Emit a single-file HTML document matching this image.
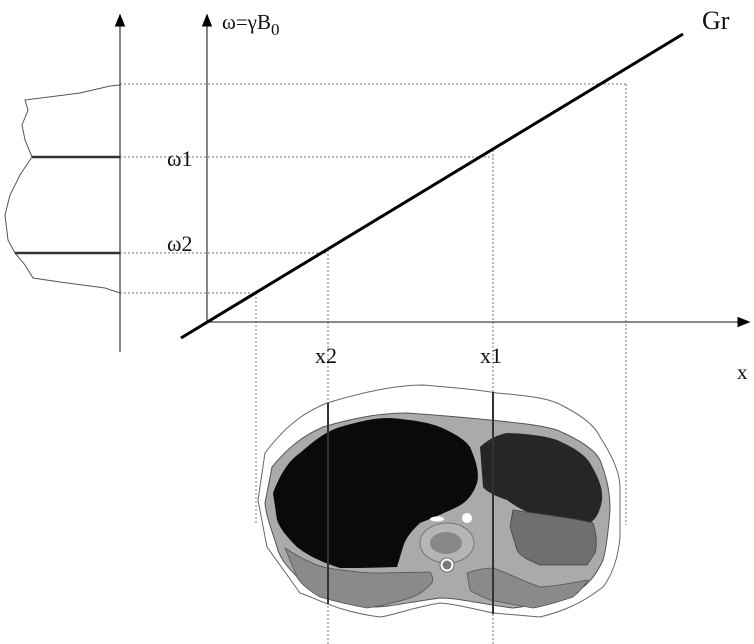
<!DOCTYPE html>
<html><head><meta charset="utf-8"><style>
html,body{margin:0;padding:0;background:#fff;}
svg{display:block;font-family:"Liberation Serif",serif;}
</style></head><body>
<svg width="754" height="644" viewBox="0 0 754 644">
<defs><marker id="ah" markerWidth="10" markerHeight="10" refX="5" refY="5" orient="auto"><path d="M0,1 L10,5 L0,9 Z" fill="#000"/></marker></defs>
<g stroke="#777" stroke-width="1" stroke-dasharray="2,2" fill="none">
<line x1="120" y1="84" x2="626" y2="84"/>
<line x1="120" y1="157" x2="493" y2="157"/>
<line x1="120" y1="253" x2="328" y2="253"/>
<line x1="120" y1="293" x2="256" y2="293"/>
<line x1="256" y1="293" x2="256" y2="525"/>
<line x1="328" y1="250" x2="328" y2="644"/>
<line x1="493" y1="150" x2="493" y2="644"/>
<line x1="626" y1="84" x2="626" y2="525"/>
</g>
<line x1="120" y1="352" x2="120" y2="20" stroke="#444" stroke-width="1.3" marker-end="url(#ah)"/>
<line x1="207" y1="322" x2="207" y2="20" stroke="#444" stroke-width="1.3" marker-end="url(#ah)"/>
<line x1="207" y1="322" x2="744" y2="322" stroke="#444" stroke-width="1.3" marker-end="url(#ah)"/>
<line x1="181" y1="338" x2="683" y2="34" stroke="#000" stroke-width="3"/>
<path d="M120,85 L110,86 L80,93 L25,100 L28,110 L22,125 L25,140 L32,157 L20,175 L10,195 L5,215 L8,240 L15,253 L25,265 L33,278 L60,282 L105,288 L120,293" fill="none" stroke="#555" stroke-width="1"/>
<line x1="32" y1="157" x2="120" y2="157" stroke="#333" stroke-width="2.5"/>
<line x1="15" y1="253" x2="120" y2="253" stroke="#333" stroke-width="2.5"/>
<g fill="#111">
<text x="222" y="29" font-size="21">ω=γB<tspan font-size="17" dy="6">0</tspan></text>
<text x="167" y="166" font-size="22">ω1</text>
<text x="167" y="251" font-size="22">ω2</text>
<text x="315" y="363" font-size="22">x2</text>
<text x="480" y="363" font-size="22">x1</text>
<text x="737" y="379" font-size="21">x</text>
<text x="702" y="29" font-size="26">Gr</text>
</g>
<g>
<path d="M265,453 C290,420 310,410 327,403 C370,390 400,385 423,385 C460,388 480,390 497,393 C530,396 545,398 557,403 C580,414 595,425 600,437 C615,460 620,475 620,487 L620,537 C618,560 612,575 603,587 C580,605 560,612 540,617 L493,613 C470,608 455,604 440,603 C410,608 395,615 380,617 C340,612 320,600 300,593 L267,547 L258,500 Z" fill="#fff" stroke="#666" stroke-width="1"/>
<path d="M272,467 C290,445 305,435 323,427 C360,416 385,413 407,413 C450,416 470,418 490,420 C520,423 540,425 557,430 C580,440 595,450 600,460 C608,480 610,495 610,510 C608,535 606,550 603,560 C595,578 585,588 573,593 C550,602 530,606 513,608 C480,604 460,598 440,598 C410,602 390,607 373,607 C340,600 320,592 307,587 C290,570 280,560 277,547 C270,525 266,515 265,503 Z" fill="#aaa" stroke="#555" stroke-width="1"/>
<path d="M273,493 C282,470 290,460 300,453 C315,440 325,432 340,427 C365,420 375,418 390,418 C415,420 430,423 440,427 C458,435 466,441 470,447 C478,465 479,475 477,483 C472,497 465,503 457,507 C440,515 430,519 420,523 C410,532 405,540 403,547 L397,567 C370,568 355,568 340,568 C315,560 305,553 297,547 C285,535 280,528 277,520 Z" fill="#0a0a0a"/>
<path d="M480,447 C490,438 498,435 507,433 C530,434 545,436 557,440 C575,448 585,455 590,463 C600,480 603,490 602,500 C600,512 596,519 590,523 C570,522 555,520 540,517 C525,512 515,506 507,500 C495,496 487,492 483,487 Z" fill="#262626"/>
<path d="M513,510 C545,515 575,518 593,523 C597,535 597,545 595,553 L587,565 L540,565 C528,560 520,556 517,550 L510,527 Z" fill="#6f6f6f" stroke="#444" stroke-width="0.8"/>
<path d="M285,548 C300,558 315,565 327,568 C350,571 360,573 373,573 C400,573 420,572 430,572 C433,576 433,580 432,583 C425,590 420,594 413,597 C395,603 380,606 367,608 C345,604 330,600 320,597 C308,590 300,583 297,577 Z" fill="#8a8a8a" stroke="#555" stroke-width="0.8"/>
<path d="M467,573 C475,570 485,568 493,568 C510,574 525,582 540,587 C560,586 575,582 588,580 C583,588 578,593 573,597 C555,603 545,606 533,608 C515,605 500,602 490,600 C480,596 473,593 470,590 Z" fill="#8a8a8a" stroke="#555" stroke-width="0.8"/>
<ellipse cx="447" cy="543" rx="27" ry="20" fill="#b5b5b5" stroke="#666" stroke-width="0.8"/>
<ellipse cx="446" cy="543" rx="16" ry="11" fill="#888"/>
<circle cx="447" cy="565" r="7" fill="#fff" stroke="#555" stroke-width="0.8"/>
<circle cx="447" cy="565" r="4.5" fill="#777"/>
<circle cx="467" cy="518" r="5" fill="#fff"/>
<ellipse cx="437" cy="519" rx="7" ry="2.5" fill="#fff"/>
</g>
<line x1="328" y1="403" x2="328" y2="604" stroke="#333" stroke-width="2"/>
<line x1="493" y1="392" x2="493" y2="614" stroke="#333" stroke-width="2"/>
</svg>
</body></html>
